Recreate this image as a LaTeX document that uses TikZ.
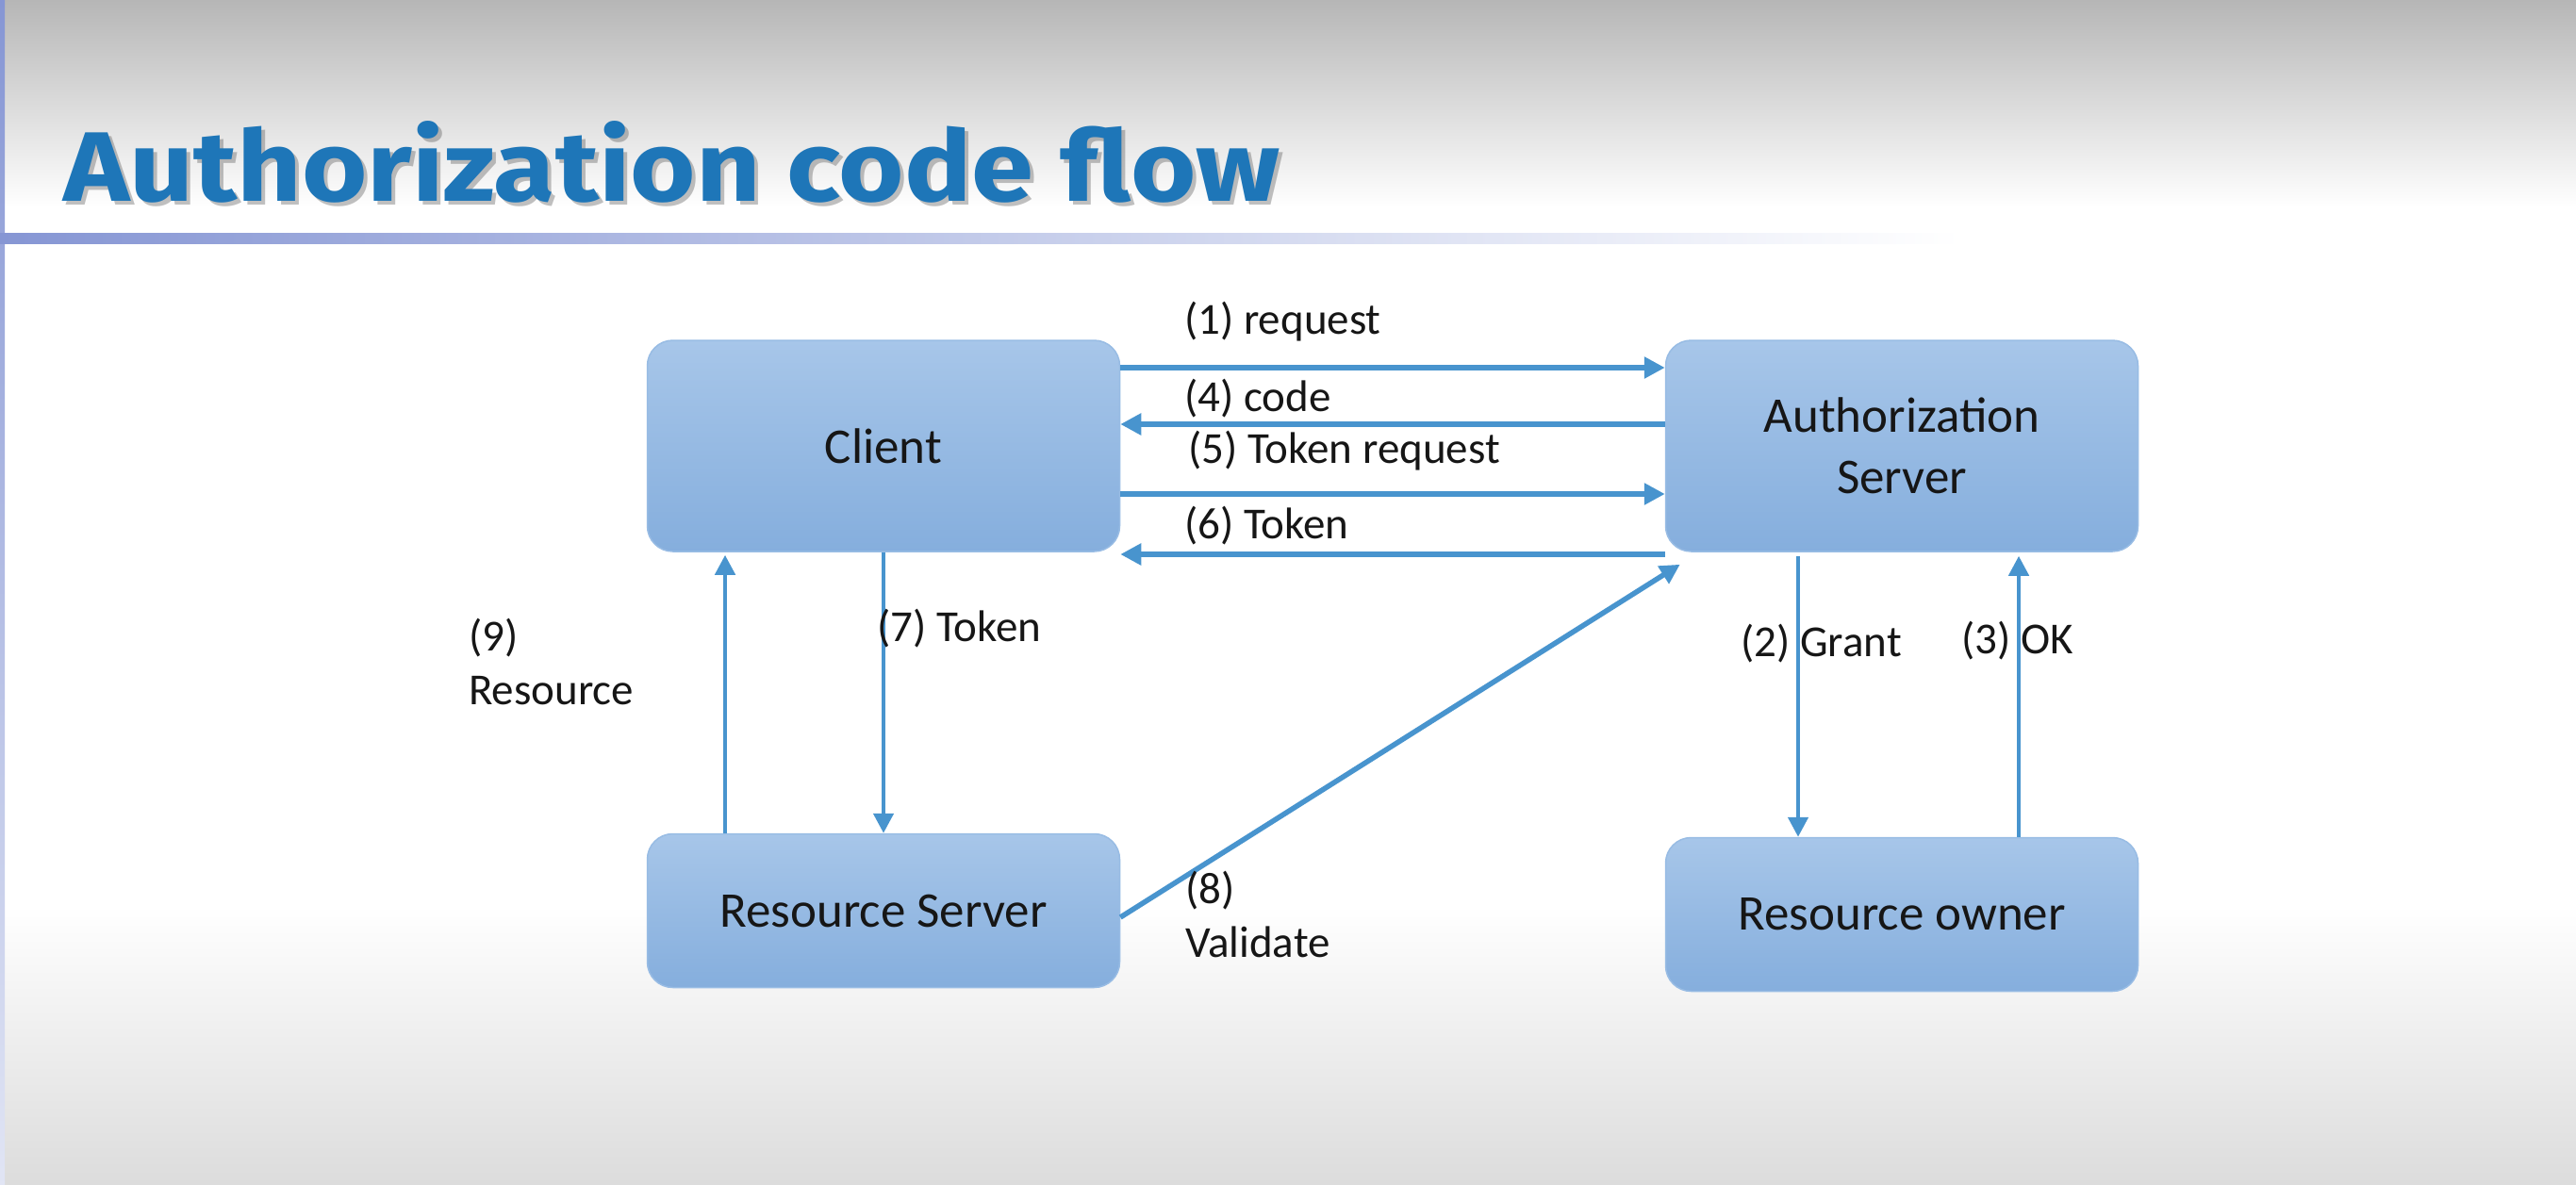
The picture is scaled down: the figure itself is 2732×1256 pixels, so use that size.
\documentclass[tikz,border=0pt]{standalone}
\usepackage{fontspec}
\usepackage{graphicx}
\setmainfont{Carlito}
\newfontfamily\titlefont{Fira Sans}
\usetikzlibrary{arrows.meta}

\definecolor{boxtop}{RGB}{167,198,233}
\definecolor{boxbot}{RGB}{133,174,221}
\definecolor{boxline}{RGB}{152,188,228}
\definecolor{flow}{RGB}{72,148,206}
\definecolor{titleblue}{RGB}{30,118,184}
\definecolor{rulecol}{RGB}{134,150,212}
\definecolor{txt}{RGB}{22,22,22}
\definecolor{topgray}{RGB}{182,182,182}
\definecolor{botgray}{RGB}{220,220,220}

\newcommand\slidetitle{\resizebox{1290pt}{85pt}{\titlefont\bfseries Authorization code flow}}

\begin{document}
\begin{tikzpicture}[x=1pt,y=-1pt,
  party/.style={draw=boxline, line width=1.5pt, rounded corners=27pt,
    top color=boxtop, bottom color=boxbot, minimum width=501pt,
    inner sep=0pt, align=center, text=txt,
    font=\fontsize{53}{65}\selectfont},
  flowarrow/.style={draw=flow, line width=5pt,
    -{Triangle[length=21pt,width=21pt]}},
  wide/.style={line width=6.5pt, -{Triangle[length=22pt,width=22pt]}},
  thin/.style={line width=4.5pt},
  lbl/.style={anchor=base west, inner sep=0pt, text=txt,
    font=\fontsize{47}{57}\selectfont},
]
\useasboundingbox (0,0) rectangle (2732,1256);

% slide background
\fill[white] (0,0) rectangle (2732,1256);
\shade[top color=topgray, bottom color=white] (0,0) rectangle (2732,220);
\shade[top color=white, bottom color=botgray] (0,960) rectangle (2732,1256);
\shade[top color=rulecol, bottom color=rulecol!25] (0,0) rectangle (5,1256);
\shade[left color=rulecol, right color=white] (0,247) rectangle (2080,258);

% title with its drop shadow
\node[anchor=base west, inner sep=0pt, text=black!70, opacity=0.35] at (71,217) {\slidetitle};
\node (title) [anchor=base west, inner sep=0pt, text=titleblue] at (67,213) {\slidetitle};

% parties
\node[party, minimum height=224pt] (client) at (937,473) {Client};
\node[party, minimum height=224pt] (auth) at (2017,473) {Authorization\\Server};
\node[party, minimum height=163pt] (rs) at (937,966) {Resource Server};
\node[party, minimum height=163pt] (ro) at (2017,970) {Resource owner};

% messages between client and authorization server
\draw[flowarrow, wide] ([yshift=83pt]client.east) -- ([yshift=83pt]auth.west);
\draw[flowarrow, wide] ([yshift=23pt]auth.west) -- ([yshift=23pt]client.east);
\draw[flowarrow, wide] ([yshift=-51pt]client.east) -- ([yshift=-51pt]auth.west);
\draw[flowarrow, wide] ([yshift=-115pt]auth.west) -- ([yshift=-115pt]client.east);

% client and resource server
\draw[flowarrow, thin] ([xshift=-168pt]rs.north) -- ([xshift=-168pt,yshift=-3pt]client.south);
\draw[flowarrow, thin] (client.south) -- (rs.north);

% authorization server and resource owner
\draw[flowarrow, thin] ([xshift=-110pt,yshift=-4pt]auth.south) -- ([xshift=-110pt]ro.north);
\draw[flowarrow, thin] ([xshift=124pt]ro.north) -- ([xshift=124pt,yshift=-4pt]auth.south);

% token validation
\draw[flowarrow, line width=5.5pt] ([yshift=-7pt]rs.east) -- ([xshift=16pt,yshift=-13pt]auth.south west);

% step labels
\node[lbl] (l1) at (1256,354) {(1) request};
\node[lbl] (l4) at (1256,436) {(4) code};
\node[lbl] (l5) at (1260,491) {(5) Token request};
\node[lbl] (l6) at (1256,571) {(6) Token};
\node[lbl] (l7) at (930,680) {(7) Token};
\node[lbl] (l9a) at (497,690) {(9)};
\node[lbl] (l9b) at (497,747) {Resource};
\node[lbl] (l8a) at (1257,958) {(8)};
\node[lbl] (l8b) at (1257,1015) {Validate};
\node[lbl] (l2) at (1846,696) {(2) Grant};
\node[lbl] (l3) at (2080,693) {(3) OK};
\end{tikzpicture}
\end{document}
